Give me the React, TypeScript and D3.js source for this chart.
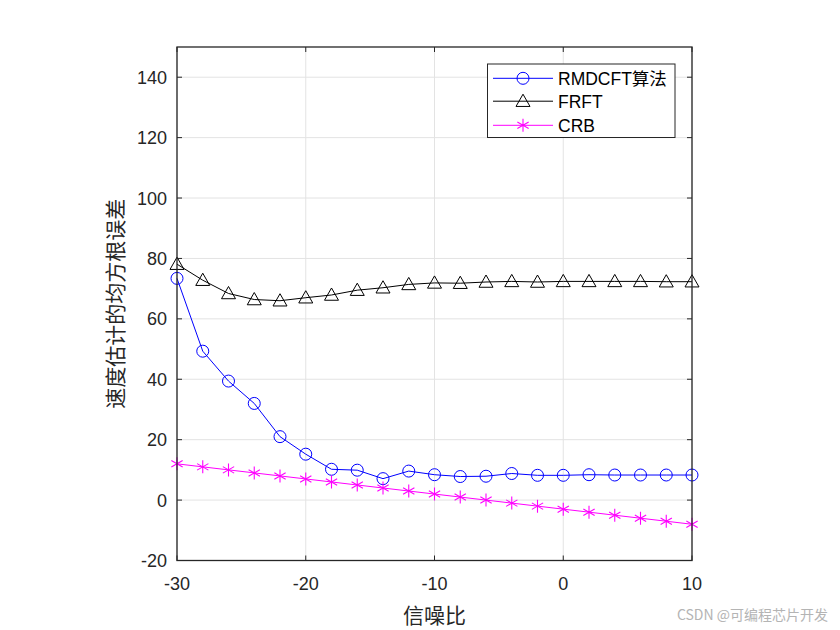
import { useEffect, useRef } from 'react';
import * as d3 from 'd3';

const snr = [-30, -28, -26, -24, -22, -20, -18, -16, -14, -12, -10, -8, -6, -4, -2, 0, 2, 4, 6, 8, 10];
const rmdcft = [73.4, 49.3, 39.4, 32, 21, 15.2, 10.2, 9.9, 7.1, 9.6, 8.4, 7.8, 7.9, 8.8, 8.2, 8.2, 8.4, 8.3, 8.3, 8.3, 8.3];
const frft = [78.1, 72.8, 68.4, 66.4, 66, 67, 67.9, 69.5, 70.3, 71.4, 71.9, 71.8, 72.2, 72.4, 72.2, 72.4, 72.4, 72.4, 72.4, 72.3, 72.3];
const crb = [12, 11, 10, 9, 8, 7, 6, 5, 4, 3, 2, 1, 0, -1, -2, -3, -4, -5, -6, -7, -8];
const xTicks = [-30, -20, -10, 0, 10];
const yTicks = [-20, 0, 20, 40, 60, 80, 100, 120, 140];
const legendLabels = ['RMDCFT算法', 'FRFT', 'CRB'];

const W = 840;
const H = 630;

export default function App() {
  const svgRef = useRef<SVGSVGElement>(null);

  useEffect(() => {
    if (!svgRef.current) return;
    const svg = d3.select(svgRef.current);
    svg.selectAll('*').remove();

    const left = 177, right = 692, top = 47, bottom = 560.5;
    const x = d3.scaleLinear().domain([-30, 10]).range([left, right]);
    const y = d3.scaleLinear().domain([-20, 150]).range([bottom, top]);
    const numFont = '"Liberation Sans", Arial, sans-serif';
    const cjkFont = '"Noto Sans CJK SC", sans-serif';

    svg.append('rect').attr('width', W).attr('height', H).attr('fill', '#fff');

    // grid
    const grid = svg.append('g').attr('stroke', '#e3e3e3').attr('stroke-width', 1);
    xTicks.forEach((t) => {
      grid.append('line').attr('x1', x(t)).attr('x2', x(t)).attr('y1', top).attr('y2', bottom);
    });
    yTicks.forEach((t) => {
      grid.append('line').attr('x1', left).attr('x2', right).attr('y1', y(t)).attr('y2', y(t));
    });

    // series
    const series = [
      { values: rmdcft, color: '#0000ff', marker: 'circle' },
      { values: frft, color: '#000000', marker: 'triangle' },
      { values: crb, color: '#ff00ff', marker: 'star' },
    ];
    const line = d3.line<number>().x((_, i) => x(snr[i])).y((d) => y(d));

    const drawMarker = (g: d3.Selection<SVGGElement, unknown, null, undefined>, kind: string, cx: number, cy: number, color: string) => {
      if (kind === 'circle') {
        g.append('circle').attr('cx', cx).attr('cy', cy).attr('r', 6)
          .attr('fill', 'none').attr('stroke', color).attr('stroke-width', 1);
      } else if (kind === 'triangle') {
        const s = 7;
        g.append('path')
          .attr('d', `M${cx},${cy - s}L${cx + s},${cy + s * 0.75}L${cx - s},${cy + s * 0.75}Z`)
          .attr('fill', 'none').attr('stroke', color).attr('stroke-width', 1);
      } else {
        const s = 6.5;
        const d = `M${cx},${cy - s}L${cx},${cy + s}M${cx - s * 0.87},${cy - s * 0.5}L${cx + s * 0.87},${cy + s * 0.5}M${cx - s * 0.87},${cy + s * 0.5}L${cx + s * 0.87},${cy - s * 0.5}`;
        g.append('path').attr('d', d).attr('stroke', color).attr('stroke-width', 1.1).attr('fill', 'none');
      }
    };

    series.forEach((s) => {
      const g = svg.append('g');
      g.append('path').attr('d', line(s.values) as string)
        .attr('fill', 'none').attr('stroke', s.color).attr('stroke-width', 1);
      s.values.forEach((v, i) => drawMarker(g, s.marker, x(snr[i]), y(v), s.color));
    });

    // axes box
    svg.append('rect').attr('x', left).attr('y', top)
      .attr('width', right - left).attr('height', bottom - top)
      .attr('fill', 'none').attr('stroke', '#262626').attr('stroke-width', 1.3);

    const ticks = svg.append('g').attr('stroke', '#262626').attr('stroke-width', 1);
    const tl = 5;
    xTicks.forEach((t) => {
      ticks.append('line').attr('x1', x(t)).attr('x2', x(t)).attr('y1', bottom).attr('y2', bottom - tl);
      ticks.append('line').attr('x1', x(t)).attr('x2', x(t)).attr('y1', top).attr('y2', top + tl);
    });
    yTicks.forEach((t) => {
      ticks.append('line').attr('x1', left).attr('x2', left + tl).attr('y1', y(t)).attr('y2', y(t));
      ticks.append('line').attr('x1', right).attr('x2', right - tl).attr('y1', y(t)).attr('y2', y(t));
    });

    // tick labels
    xTicks.forEach((t) => {
      svg.append('text').attr('x', x(t)).attr('y', 590)
        .attr('text-anchor', 'middle')
        .style('font-family', numFont).style('font-size', '18px').style('fill', '#262626')
        .text(String(t));
    });
    yTicks.forEach((t) => {
      svg.append('text').attr('x', 167).attr('y', y(t) + 6.5)
        .attr('text-anchor', 'end')
        .style('font-family', numFont).style('font-size', '18px').style('fill', '#262626')
        .text(String(t));
    });

    // axis labels
    svg.append('text').attr('x', (left + right) / 2).attr('y', 623)
      .attr('text-anchor', 'middle')
      .style('font-family', cjkFont).style('font-size', '21px').style('fill', '#262626')
      .text('信噪比');
    svg.append('text')
      .attr('transform', `translate(123, ${(top + bottom) / 2}) rotate(-90)`)
      .attr('text-anchor', 'middle')
      .style('font-family', cjkFont).style('font-size', '21px').style('fill', '#262626')
      .text('速度估计的均方根误差');

    // legend
    const lg = svg.append('g');
    lg.append('rect').attr('x', 487.5).attr('y', 64).attr('width', 187.5).attr('height', 73.5)
      .attr('fill', '#fff').attr('stroke', '#262626').attr('stroke-width', 1);
    const rowY = [78.3, 101.2, 125.3];
    series.forEach((s, i) => {
      lg.append('line').attr('x1', 493).attr('x2', 553).attr('y1', rowY[i]).attr('y2', rowY[i])
        .attr('stroke', s.color).attr('stroke-width', 1);
      drawMarker(lg, s.marker, 523, rowY[i], s.color);
      lg.append('text').attr('x', 558).attr('y', rowY[i] + 6.3)
        .style('font-family', `${numFont.split(',')[0]}, ${cjkFont}`).style('font-size', '17.5px').style('fill', '#000')
        .text(legendLabels[i]);
    });

    // watermark
    svg.append('text').attr('x', 828).attr('y', 620).attr('text-anchor', 'end')
      .style('font-family', cjkFont).style('font-size', '14px').style('fill', '#b4b4b4')
      .text('CSDN @可编程芯片开发');
  }, []);

  return (
    <svg
      ref={svgRef}
      width={W}
      height={H}
      style={{ position: 'absolute', left: 0, top: 0 }}
    />
  );
}
